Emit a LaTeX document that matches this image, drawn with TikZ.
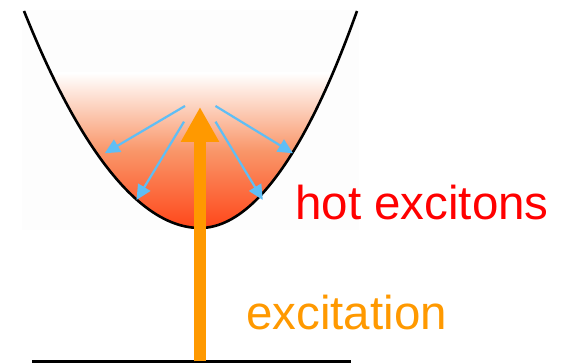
\documentclass[tikz,border=0pt]{standalone}
\usepackage{fontspec}
\setmainfont{Liberation Sans}
\usetikzlibrary{
    arrows.meta,
    positioning
}
\definecolor{pumporange}{RGB}{255,153,0}
\definecolor{hotred}{RGB}{255,0,0}
\definecolor{bandhot}{RGB}{255,70,25}
\definecolor{bandwarm}{RGB}{249,150,105}
\definecolor{relaxblue}{RGB}{95,190,245}
\tikzset{
    % --- Exciton band (dispersion curve) ---
    band/.style = {
        draw=black, line width=2.6pt
    },
    % --- Hot population filling the band ---
    hot fill/.style = {
        top color=white, bottom color=bandhot, middle color=bandwarm
    },
    % --- Ground state line ---
    ground/.style = {
        draw=black, line width=3pt
    },
    % --- Excitation arrow ---
    pump arrow/.style = {
        -{Triangle[length=35pt,width=36pt]},
        draw=pumporange, line width=12pt
    },
    % --- Relaxation arrows ---
    relax arrow/.style = {
        -{Triangle[length=15pt,width=14pt]},
        draw=relaxblue, line width=2.2pt
    },
    % --- Big labels ---
    big label/.style = {
        font=\fontsize{47.5}{57}\selectfont,
        inner sep=0pt, anchor=base west
    }
}

\begin{document}
\begin{tikzpicture}[x=1pt, y=1pt]

\useasboundingbox (0,0) rectangle (566,363);

% ---------------------------------------------------------
% Band
% ---------------------------------------------------------
\fill[black!0.8] (22,133) rectangle (359,353);

\coordinate (band left) at (24,352);
\coordinate (band bottom) at (200,135);
\coordinate (band right) at (357,352);

\begin{scope}
    \clip (band left) parabola bend (band bottom) (band right) -- cycle;
    \shade[hot fill] (20,134) rectangle (360,290);
\end{scope}

\draw[band] (band left) parabola bend (band bottom) (band right);

% ---------------------------------------------------------
% Relaxation of hot excitons
% ---------------------------------------------------------
\coordinate (r1 start) at (185,257);
\coordinate (r1 end) at (104.7,209.7);
\coordinate (r2 start) at (184,241.3);
\coordinate (r2 end) at (136.5,163);
\coordinate (r3 start) at (215.5,257);
\coordinate (r3 end) at (293,209.7);
\coordinate (r4 start) at (215.5,241.3);
\coordinate (r4 end) at (262.8,163);

\draw[relax arrow] (r1 start) -- (r1 end);
\draw[relax arrow] (r2 start) -- (r2 end);
\draw[relax arrow] (r3 start) -- (r3 end);
\draw[relax arrow] (r4 start) -- (r4 end);

% ---------------------------------------------------------
% Ground state and excitation
% ---------------------------------------------------------
\coordinate (ground west) at (32,1.5);
\coordinate (ground east) at (351,1.5);
\draw[ground] (ground west) -- (ground east);

\coordinate (pump foot) at (200,1.5);
\coordinate (pump tip) at (200,256);
\draw[pump arrow] (pump foot) -- (pump tip);

% ---------------------------------------------------------
% Labels
% ---------------------------------------------------------
\node[big label, text=hotred] (hot label) at (295,143) {hot excitons};
\node[big label, text=pumporange] (pump label) at (246,33) {excitation};

\end{tikzpicture}
\end{document}
